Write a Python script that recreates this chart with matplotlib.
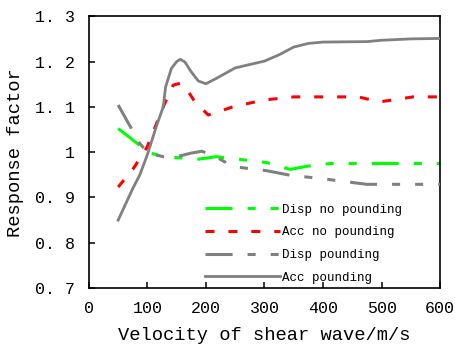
import matplotlib
matplotlib.use('Agg')
import matplotlib.pyplot as plt

plt.rcParams['font.family'] = ['Liberation Mono', 'DejaVu Sans Mono']
plt.rcParams['lines.scale_dashes'] = False

# values
vel_acc_p = [50, 75, 87, 100, 115, 127, 131, 141, 150, 156, 164, 175, 187, 200, 218, 250, 300, 325, 350, 375, 400, 475, 500, 550, 600]
acc_pound = [0.85, 0.92, 0.95, 0.995, 1.056, 1.10, 1.144, 1.185, 1.20, 1.205, 1.199, 1.177, 1.157, 1.151, 1.163, 1.186, 1.201, 1.215, 1.232, 1.240, 1.243, 1.244, 1.247, 1.250, 1.251]

vel_disp_p = [50, 87, 101, 127, 150, 175, 193, 212, 247, 304, 344, 395, 475, 600]
disp_pound = [1.104, 1.019, 0.998, 0.990, 0.990, 0.998, 1.002, 0.993, 0.968, 0.959, 0.949, 0.942, 0.929, 0.929]

vel_disp_np = [50, 82, 100, 127, 150, 184, 218, 258, 304, 344, 378, 412, 500, 600]
disp_nopound = [1.052, 1.020, 1.000, 0.990, 0.988, 0.984, 0.990, 0.984, 0.977, 0.962, 0.970, 0.975, 0.975, 0.975]

vel_acc_np = [50, 76, 99, 127, 144, 156, 164, 181, 204, 246, 298, 350, 460, 497, 554, 600]
acc_nopound = [0.923, 0.964, 1.010, 1.100, 1.148, 1.152, 1.146, 1.111, 1.082, 1.100, 1.115, 1.122, 1.122, 1.111, 1.122, 1.122]

xticks = [0, 100, 200, 300, 400, 500, 600]
yticks = [0.7, 0.8, 0.9, 1.0, 1.1, 1.2, 1.3]
ytick_labels = ['0. 7', '0. 8', '0. 9', '1', '1. 1', '1. 2', '1. 3']

fig = plt.figure(figsize=(4.56, 3.61), dpi=100)
ax = fig.add_axes([0.195, 0.202, 0.770, 0.753])

dash_dot2 = (0, (19.5, 10.8, 5.8, 10.8, 5.8, 10.8))
ax.plot(vel_disp_np, disp_nopound, color='#00ff00', lw=2.2, linestyle=dash_dot2, label='Disp no pounding', zorder=2)
ax.plot(vel_acc_np, acc_nopound, color='#ff0000', lw=2.2, linestyle=(0, (6.5, 10)), label='Acc no pounding', zorder=2)
ax.plot(vel_disp_p, disp_pound, color='#808080', lw=2.2, linestyle=dash_dot2, label='Disp pounding', zorder=3)
ax.plot(vel_acc_p, acc_pound, color='#808080', lw=2.0, label='Acc pounding', zorder=3)

ax.set_xlim(0, 600)
ax.set_ylim(0.7, 1.3)
ax.set_xticks(xticks)
ax.set_yticks(yticks)
ax.set_yticklabels(ytick_labels)
ax.tick_params(axis='both', direction='in', length=4, width=1.1, labelsize=12)
ax.tick_params(axis='y', pad=10)
ax.tick_params(axis='x', pad=9)
for s in ax.spines.values():
    s.set_linewidth(1.2)

ax.set_xlabel('Velocity of shear wave/m/s', fontsize=13.5, labelpad=8)
ax.set_ylabel('Response factor', fontsize=13.5, labelpad=8)

ax.legend(loc='upper left', bbox_to_anchor=(0.33, 0.31), frameon=False, fontsize=9,
          handlelength=6, handletextpad=0.2, labelspacing=0.85, borderpad=0, borderaxespad=0)

fig.savefig('out.png', dpi=100)
